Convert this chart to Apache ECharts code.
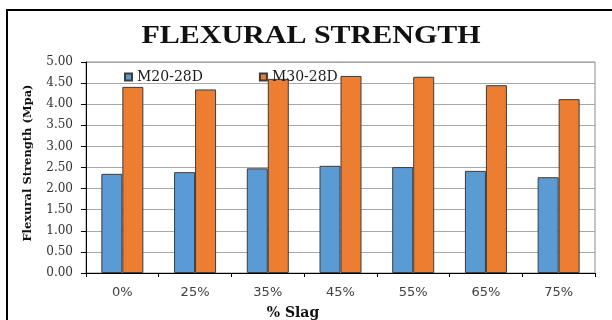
<!DOCTYPE html>
<html>
<head>
<meta charset="utf-8">
<style>
  html, body { margin: 0; padding: 0; background: #fff; }
  #chart { width: 612px; height: 320px; }
</style>
<script src="https://cdn.jsdelivr.net/npm/echarts@6/dist/echarts.min.js"></script>
</head>
<body>
<div id="chart"></div>
<script>
// Flexural strength (MPa) at 28 days versus slag replacement level
const categories = ['0%', '25%', '35%', '45%', '55%', '65%', '75%'];
const seriesNames = ['M20-28D', 'M30-28D'];
const m20Values = [2.35, 2.39, 2.48, 2.54, 2.51, 2.42, 2.27];
const m30Values = [4.41, 4.35, 4.60, 4.67, 4.65, 4.45, 4.12];
const yTicks = { min: 0, max: 5, interval: 0.5 };

const chart = echarts.init(document.getElementById('chart'), null, { renderer: 'canvas' });

const barBorder = { borderColor: '#3c3c3c', borderWidth: 1 };

chart.setOption({
  animation: false,
  backgroundColor: '#ffffff',
  grid: { left: 86, right: 17, top: 62, bottom: 47, show: true, borderColor: '#8c8c8c', borderWidth: 1 },
  legend: {
    left: 119, top: 65,
    itemWidth: 7, itemHeight: 7, itemGap: 56,
    icon: 'rect',
    textStyle: { fontFamily: 'DejaVu Serif', fontSize: 14, color: '#1a1a1a' },
    data: seriesNames
  },
  xAxis: {
    type: 'category',
    data: categories,
    axisLine: { lineStyle: { color: '#000', width: 1 } },
    axisTick: { show: true, length: 4, lineStyle: { color: '#000' } },
    axisLabel: { fontFamily: 'DejaVu Sans', fontSize: 13, color: '#404040', margin: 13 }
  },
  yAxis: {
    type: 'value',
    min: yTicks.min, max: yTicks.max, interval: yTicks.interval,
    axisLine: { show: true, lineStyle: { color: '#000', width: 1 } },
    axisTick: { show: true, length: 5, lineStyle: { color: '#000' } },
    axisLabel: {
      fontFamily: 'DejaVu Serif', fontSize: 12, color: '#333', margin: 13,
      formatter: v => v.toFixed(2)
    },
    splitLine: { lineStyle: { color: '#a8a8a8', width: 1 } }
  },
  series: [
    {
      name: seriesNames[0], type: 'bar', data: m20Values,
      barWidth: 21, barGap: '0%',
      itemStyle: Object.assign({ color: '#5b9bd5' }, barBorder)
    },
    {
      name: seriesNames[1], type: 'bar', data: m30Values,
      barWidth: 21,
      itemStyle: Object.assign({ color: '#ed7d31' }, barBorder)
    }
  ],
  graphic: [
    // outer frame of the figure
    {
      type: 'polyline', silent: true,
      shape: { points: [[7, 330], [7, 10], [620, 10]] },
      style: { stroke: '#000', lineWidth: 2, fill: null }
    },
    {
      type: 'text', silent: true,
      x: 311, y: 37, scaleX: 1.2,
      style: {
        text: 'FLEXURAL STRENGTH',
        font: 'bold 25px "Liberation Serif"',
        fill: '#111', align: 'center', verticalAlign: 'middle'
      }
    },
    {
      type: 'text', silent: true,
      x: 28, y: 163, rotation: Math.PI / 2,
      style: {
        text: 'Flexural Strength (Mpa)',
        font: 'bold 11.5px "DejaVu Serif"',
        fill: '#111', align: 'center', verticalAlign: 'middle'
      }
    },
    {
      type: 'text', silent: true,
      x: 293, y: 313,
      style: {
        text: '% Slag',
        font: 'bold 14px "DejaVu Serif"',
        fill: '#111', align: 'center', verticalAlign: 'middle'
      }
    }
  ]
});
</script>
</body>
</html>
